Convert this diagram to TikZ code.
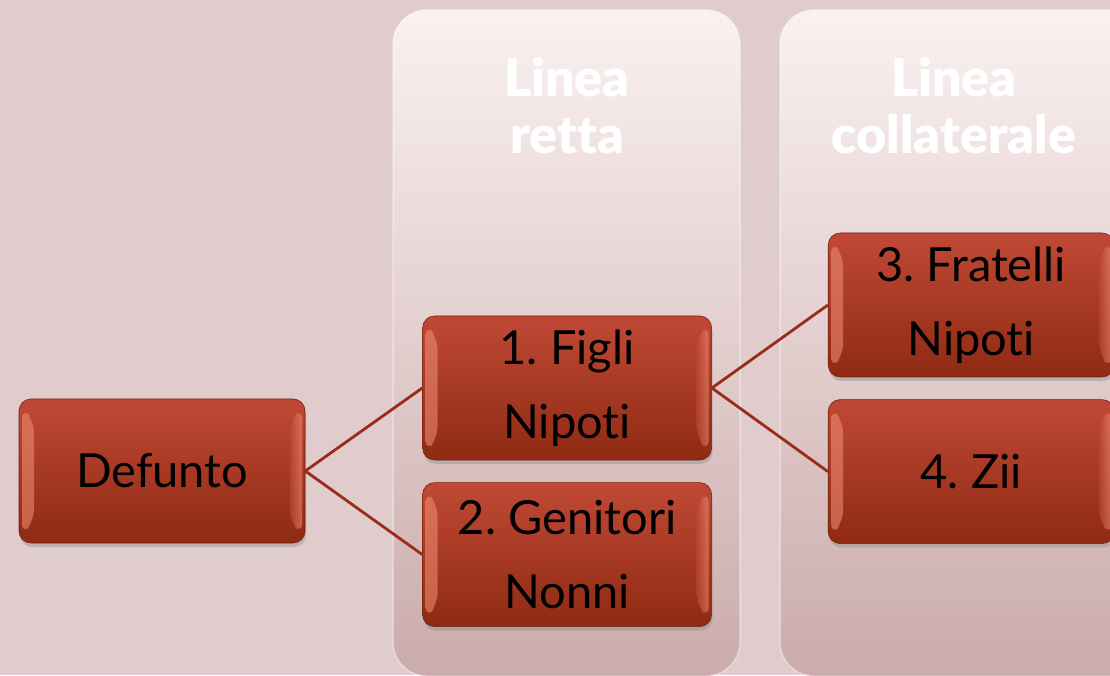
\documentclass[tikz,border=0pt]{standalone}
\usepackage{fontspec}
\setmainfont{Lato}[Ligatures={NoCommon}]
\IfFontExistsTF{Lato Black}
  {\newfontfamily\titlefont{Lato Black}[Ligatures={NoCommon}]}
  {\newcommand\titlefont{\bfseries}}
\usepackage{xcolor}
\usetikzlibrary{positioning}
\usetikzlibrary{shadows}
\frenchspacing
\definecolor{slidebg}{HTML}{E0CCCC}
\definecolor{paneltop}{HTML}{FAF1F1}
\definecolor{panelbot}{HTML}{CBABAB}
\definecolor{boxtop}{HTML}{C04935}
\definecolor{boxbot}{HTML}{8F2A13}
\definecolor{boxedge}{HTML}{F59378}
\definecolor{linkred}{HTML}{9A2C18}
\tikzstyle{panel}=[rounded corners=34pt, top color=paneltop, bottom color=panelbot, draw=white, draw opacity=0.4, line width=1.5pt]
\tikzstyle{paneltitle}=[text=white, align=center, font=\titlefont\fontsize{52}{57}\selectfont]
\tikzstyle{kinbox}=[rounded corners=12pt, minimum width=286pt, minimum height=144pt, inner sep=0pt,
  top color=boxtop, bottom color=boxbot, draw=boxbot!80!black, line width=0.6pt, align=center,
  font=\fontsize{47}{74}\selectfont,
  drop shadow={opacity=0.35, shadow xshift=1pt, shadow yshift=-4pt},
  path picture={
    \path[left color=boxedge, right color=boxtop, fill opacity=0.55]
      ([xshift=3pt,yshift=-8pt]path picture bounding box.north west) -- ++(12pt,-14pt)
      -- ([xshift=15pt,yshift=22pt]path picture bounding box.south west)
      -- ([xshift=3pt,yshift=8pt]path picture bounding box.south west) -- cycle;
    \path[right color=boxedge, left color=boxtop, fill opacity=0.55]
      ([xshift=-3pt,yshift=-8pt]path picture bounding box.north east) -- ++(-12pt,-14pt)
      -- ([xshift=-15pt,yshift=22pt]path picture bounding box.south east)
      -- ([xshift=-3pt,yshift=8pt]path picture bounding box.south east) -- cycle;
  }]
\tikzstyle{link}=[draw=linkred, line width=2.8pt]

\begin{document}
\begin{tikzpicture}[x=1pt, y=1pt]
        \fill[slidebg] (0,0) rectangle (1110,675);
        \useasboundingbox (0,0) rectangle (1110,675);

        % columns
        \path[panel] (393,-1) rectangle (740,665);
        \path[panel] (780,-1) rectangle (1160,665);
        \node[paneltitle] (retta)       at (567,569) {Linea\\retta};
        \node[paneltitle] (collaterale) at (954,569) {Linea\\collaterale};

        % boxes
        \node[kinbox]                 (defunto)  at (162,204)                         {Defunto};
        \node[kinbox, minimum width=289pt] (figli)    [right=117pt of defunto, yshift=83pt] {1. Figli\\Nipoti};
        \node[kinbox, minimum width=289pt] (genitori) [below=22pt of figli]                 {2. Genitori\\Nonni};
        \node[kinbox]                 (fratelli) [right=116pt of figli, yshift=83pt]   {3. Fratelli\\Nipoti};
        \node[kinbox]                 (zii)      [below=22pt of fratelli]              {4. Zii};

        \path[link]
          (defunto.east) edge (figli.west)
                         edge (genitori.west)
          (figli.east)   edge (fratelli.west)
                         edge (zii.west);
      \end{tikzpicture}
\end{document}
